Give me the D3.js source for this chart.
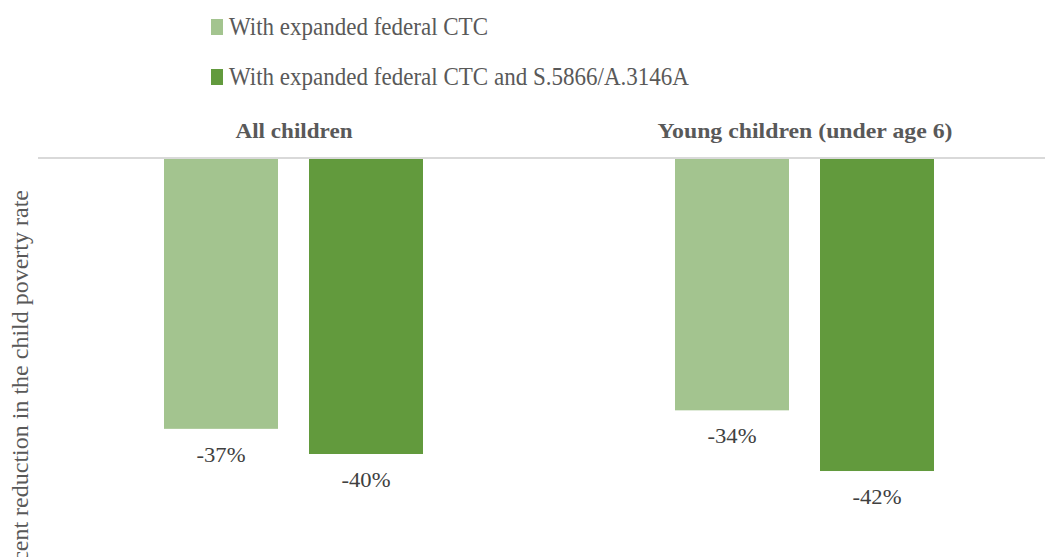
<!DOCTYPE html>
<html>
<head>
<meta charset="utf-8">
<script src="https://cdn.jsdelivr.net/npm/d3@7"></script>
<style>
  body { margin: 0; background: #fff; }
  svg { display: block; }
  text { font-family: "Liberation Serif", "Times New Roman", serif; }
</style>
</head>
<body>
<svg width="1045" height="557"></svg>
<script>
// Data
const categories = ["All children", "Young children (under age 6)"]
const seriesNames = ["With expanded federal CTC", "With expanded federal CTC and S.5866/A.3146A"]
const federalCTC = [-0.366, -0.341]
const withStateBill = [-0.400, -0.423]
const colors = ["#a3c48f", "#629a3d"]

const svg = d3.select("svg")

// Scales
const x0 = d3.scaleBand()
    .domain(categories)
    .range([38, 1060])

const x1 = d3.scaleBand()
    .domain(seriesNames)
    .range([126, 385]) // bars inside each group
    .paddingInner(0.2138)

const y = d3.scaleLinear()
    .domain([0, -0.5])
    .range([158, 528])

const series = [federalCTC, withStateBill]
const rows = categories.map((c, i) => ({
    cat: c,
    vals: seriesNames.map((s, j) => ({ name: s, v: series[j][i], color: colors[j] }))
}))

// Baseline
svg.append("line")
    .attr("x1", 38).attr("x2", 1045)
    .attr("y1", y(0)).attr("y2", y(0))
    .attr("stroke", "#d9d9d9")
    .attr("stroke-width", 2)

// Bars
const g = svg.selectAll("g.grp")
    .data(rows)
    .join("g")
    .attr("class", "grp")
    .attr("transform", d => `translate(${x0(d.cat)},0)`)

g.selectAll("rect")
    .data(d => d.vals)
    .join("rect")
    .attr("x", d => x1(d.name))
    .attr("width", x1.bandwidth())
    .attr("y", y(0) + 1)
    .attr("height", d => y(d.v) - y(0) - 1)
    .attr("fill", d => d.color)

// Value labels
g.selectAll("text.val")
    .data(d => d.vals)
    .join("text")
    .attr("class", "val")
    .attr("x", d => x1(d.name) + x1.bandwidth() / 2)
    .attr("y", d => y(d.v) + 33)
    .attr("text-anchor", "middle")
    .attr("fill", "#404040")
    .style("font-size", "22px")
    .attr("textLength", 49)
    .attr("lengthAdjust", "spacingAndGlyphs")
    .text(d => d3.format(".0%")(d.v).replace("−", "-"))

// Category labels on top
const catWidths = [117, 295]
svg.selectAll("text.cat")
    .data(categories)
    .join("text")
    .attr("class", "cat")
    .attr("x", d => x0(d) + 256)
    .attr("y", 138)
    .attr("text-anchor", "middle")
    .attr("fill", "#595959")
    .style("font-size", "21px")
    .style("font-weight", "bold")
    .attr("textLength", (d, i) => catWidths[i])
    .attr("lengthAdjust", "spacingAndGlyphs")
    .text(d => d)

// Y axis title (cut off at the bottom like the original)
svg.append("text")
    .attr("transform", "translate(28,190) rotate(-90)")
    .attr("text-anchor", "end")
    .attr("fill", "#595959")
    .style("font-size", "24px")
    .text("Percent reduction in the child poverty rate")

// Legend
const legWidths = [259, 460]
const leg = svg.selectAll("g.leg")
    .data(seriesNames)
    .join("g")
    .attr("class", "leg")
    .attr("transform", (d, i) => `translate(211,${35 + i * 50})`)

leg.append("rect")
    .attr("y", -16)
    .attr("width", 12).attr("height", 16)
    .attr("fill", (d, i) => colors[i])

leg.append("text")
    .attr("x", 18)
    .attr("y", 0)
    .attr("fill", "#595959")
    .style("font-size", "26px")
    .attr("textLength", (d, i) => legWidths[i])
    .attr("lengthAdjust", "spacingAndGlyphs")
    .text(d => d)
</script>
</body>
</html>
